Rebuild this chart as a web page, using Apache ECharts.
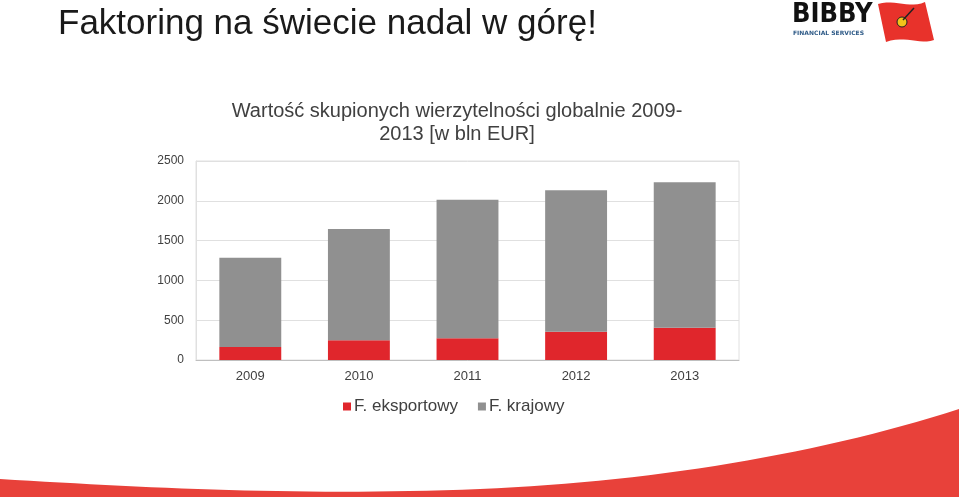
<!DOCTYPE html>
<html><head><meta charset="utf-8">
<script src="https://cdn.jsdelivr.net/npm/echarts@6/dist/echarts.min.js"></script>
<style>html,body{margin:0;padding:0;background:#fff;}#c{width:959px;height:497px;}</style>
</head><body><div id="c"></div>
<script>
const categories = ['2009', '2010', '2011', '2012', '2013'];
const exportValues = [163, 247, 272, 356, 406];
const domesticValues = [1122, 1399, 1742, 1775, 1826];
const seriesNames = ['F. eksportowy', 'F. krajowy'];
const yTicks = { min: 0, max: 2500, interval: 500 };

function cubic(p0, p1, p2, p3, n) {
  const pts = [];
  for (let i = 0; i <= n; i++) {
    const t = i / n, u = 1 - t;
    pts.push([
      u*u*u*p0[0] + 3*u*u*t*p1[0] + 3*u*t*t*p2[0] + t*t*t*p3[0],
      u*u*u*p0[1] + 3*u*u*t*p1[1] + 3*u*t*t*p2[1] + t*t*t*p3[1]
    ]);
  }
  return pts;
}
const swoosh = cubic([0,479],[150,488],[300,496],[480,489],30)
  .concat(cubic([480,489],[650,482],[820,454],[959,409],30).slice(1))
  .concat([[959,497],[0,497]]);
const flag = cubic([878,4],[895,-1],[910,9],[925,2],12)
  .concat(cubic([934,40],[920,45],[905,35],[886,42],12));

const chart = echarts.init(document.getElementById('c'));
const font = '"Liberation Sans", Arial, sans-serif';
chart.setOption({
  animation: false,
  backgroundColor: '#fff',
  title: {
    text: 'Wartość skupionych wierzytelności globalnie 2009-\n2013 [w bln EUR]',
    left: 452, top: 95, textAlign: 'center',
    textStyle: { fontFamily: font, fontSize: 20, fontWeight: 'normal', color: '#404040', lineHeight: 23 }
  },
  legend: {
    data: seriesNames, left: 338, top: 393,
    itemWidth: 8, itemHeight: 8, itemGap: 20, icon: 'rect',
    textStyle: { fontFamily: font, fontSize: 17, color: '#404040', padding: [0, 0, 0, -2] }
  },
  grid: { left: 196, top: 161, right: 220, bottom: 137, show: true, borderColor: '#e0e0e0', borderWidth: 1 },
  xAxis: {
    type: 'category', data: categories,
    axisLine: { lineStyle: { color: '#bfbfbf' } },
    axisTick: { show: false },
    axisLabel: { fontFamily: font, fontSize: 13, color: '#404040', margin: 10 }
  },
  yAxis: {
    type: 'value', min: yTicks.min, max: yTicks.max, interval: yTicks.interval,
    axisLine: { show: true, lineStyle: { color: '#e0e0e0' } },
    splitLine: { lineStyle: { color: '#e0e0e0' } },
    axisLabel: { fontFamily: font, fontSize: 12, color: '#404040', margin: 12, formatter: v => String(v) }
  },
  series: [
    { name: seriesNames[0], type: 'bar', stack: 's', data: exportValues, barCategoryGap: '43%', itemStyle: { color: '#e0262c' } },
    { name: seriesNames[1], type: 'bar', stack: 's', data: domesticValues, barCategoryGap: '43%', itemStyle: { color: '#909090' } }
  ],
  graphic: [
    { type: 'text', x: 58, y: 7, style: { text: 'Faktoring na świecie nadal w górę!', font: '35px "Liberation Sans", Arial, sans-serif', fill: '#1a1a1a' } },
    { type: 'polygon', shape: { points: swoosh }, style: { fill: '#e8413a' }, silent: true, z: -1 },
    { type: 'text', x: 792, y: 1, style: { text: 'BIBBY', font: 'bold 27px "DejaVu Sans Condensed", "DejaVu Sans", sans-serif', fill: '#111' } },
    { type: 'text', x: 793, y: 30, style: { text: 'FINANCIAL SERVICES', font: 'bold 6px "DejaVu Sans", sans-serif', fill: '#2e5a87' } },
    { type: 'polygon', shape: { points: flag }, style: { fill: '#e8322b' } },
    { type: 'circle', shape: { cx: 902, cy: 22, r: 5 }, style: { fill: '#f2c31a', stroke: '#222', lineWidth: 1 } },
    { type: 'line', shape: { x1: 903, y1: 20, x2: 914, y2: 8 }, style: { stroke: '#222', lineWidth: 1.5 } }
  ]
});
</script></body></html>
